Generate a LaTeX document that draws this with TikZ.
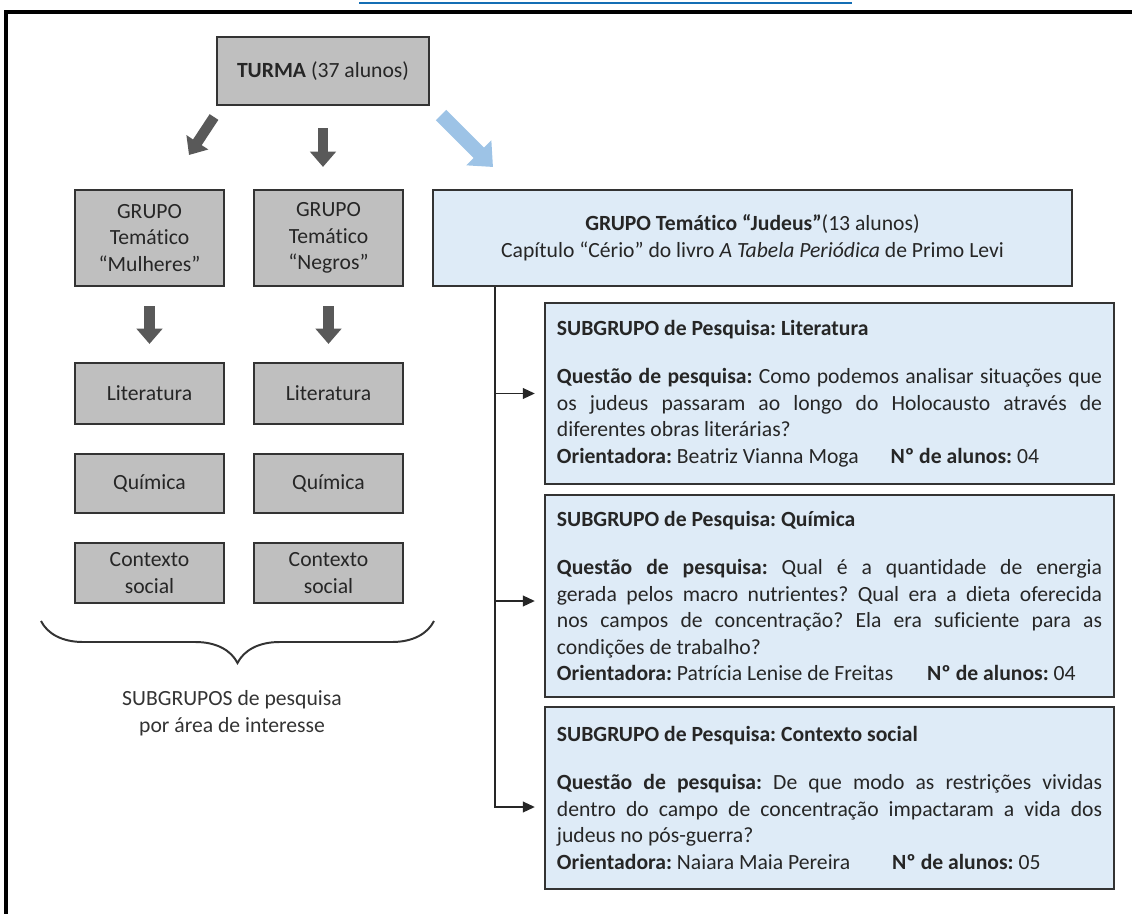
\documentclass[tikz,border=0pt]{standalone}
\usepackage{fontspec}
\setmainfont{Carlito}[Ligatures=NoCommon]
\usetikzlibrary{arrows.meta,decorations.pathreplacing}

\definecolor{boxgray}{RGB}{191,191,191}
\definecolor{boxblue}{RGB}{222,235,247}
\definecolor{arrowgray}{RGB}{89,89,89}
\definecolor{arrowblue}{RGB}{157,195,230}
\definecolor{linkblue}{RGB}{20,110,180}
\definecolor{inkdark}{RGB}{38,38,38}
\hyphenpenalty=10000
\frenchspacing

\begin{document}
\begin{tikzpicture}[
    x=0.025cm, y=-0.025cm,
    every node/.style={text=inkdark, font=\fontsize{15.4pt}{18.9pt}\selectfont},
    graybox/.style={draw=black!80, line width=1.5pt, fill=boxgray, minimum width=3.725cm, align=center},
    bluebox/.style={draw=black!80, line width=1.5pt, fill=boxblue, align=center},
    subbox/.style={draw=black!80, line width=1.5pt, fill=boxblue, text width=13.625cm,
                   inner xsep=0.3cm, align=justify},
    blockdark/.style={draw=arrowgray, line width=0.26cm, -{Triangle[length=0.38cm,width=0.63cm]}},
    blockblue/.style={draw=arrowblue, line width=0.37cm, -{Triangle[length=0.5cm,width=0.85cm]}},
    link/.style={draw=black!85, line width=1.4pt, -{Triangle[length=8.5pt,width=7.5pt]}, shorten >=0.225cm}
]
  \useasboundingbox (0,0) rectangle (1132,914);

  % frame and cut link
  \draw[linkblue, line width=1.5pt] (359,3) -- (852,3);
  \draw[line width=0.075cm] (1132,12) -- (6,12) -- (6,914);

  % class node
  \node[graybox, minimum width=5.3cm, minimum height=1.7cm] (turma) at (323,71) {\textbf{TURMA} (37 alunos)};

  % thematic groups
  \node[graybox, minimum height=2.4cm] (mulheres) at (149.5,238) {GRUPO\\Temático\\“Mulheres”};
  \node[graybox, minimum height=2.4cm] (negros)   at (328.5,238) {GRUPO\\Temático\\“Negros”};
  \node[bluebox, minimum width=15.975cm, minimum height=2.4cm] (judeus) at (752.5,238)
    {\textbf{GRUPO Temático “Judeus”}(13 alunos)\\Capítulo “Cério” do livro \textit{A Tabela Periódica} de Primo Levi};

  % arrows from the class
  \coordinate (d1s) at (214,117);
  \coordinate (d1e) at (189,155);
  \coordinate (b1s) at (441,115);
  \coordinate (b1e) at (493,167);
  \draw[blockdark] (d1s) -- (d1e);
  \draw[blockdark, shorten <=0.55cm, shorten >=0.55cm] (turma.south) -- (turma.south |- negros.north);
  \draw[blockblue] (b1s) -- (b1e);

  % subgroups of the left groups
  \node[graybox, minimum height=1.525cm] (lit1) at (149.5,393.5) {Literatura};
  \node[graybox, minimum height=1.475cm] (qui1) at (149.5,483.5) {Química};
  \node[graybox, minimum height=1.5cm]   (ctx1) at (149.5,573)   {Contexto\\social};
  \node[graybox, minimum height=1.525cm] (lit2) at (328.5,393.5) {Literatura};
  \node[graybox, minimum height=1.475cm] (qui2) at (328.5,483.5) {Química};
  \node[graybox, minimum height=1.5cm]   (ctx2) at (328.5,573)   {Contexto\\social};

  \draw[blockdark, shorten <=0.475cm, shorten >=0.45cm] (mulheres) -- (lit1);
  \draw[blockdark, shorten <=0.475cm, shorten >=0.45cm] (negros) -- (lit2);

  % brace and caption
  \coordinate (bl) at (41,621);
  \coordinate (br) at (434,621);
  \draw[decorate, decoration={brace, mirror, amplitude=1.05cm}, draw=black!80, line width=1.4pt] (bl) -- (br);
  \node[align=center, text=black!80] (caption) at (232,713) {SUBGRUPOS de pesquisa\\por área de interesse};

  % subgroups of the Judeus group
  \node[subbox, minimum height=4.525cm] (sub1) at (829.5,393.5) {%
    \textbf{SUBGRUPO de Pesquisa: Literatura}\par\vspace{0.54cm}
    \textbf{Questão de pesquisa:} Como podemos analisar situações que\linebreak
    os judeus passaram ao longo do Holocausto através de\linebreak
    diferentes obras literárias?\par
    \textbf{Orientadora:} Beatriz Vianna Moga\hspace{0.8cm}\textbf{Nº de alunos:} 04};
  \node[subbox, minimum height=5.05cm] (sub2) at (829.5,596) {%
    \textbf{SUBGRUPO de Pesquisa: Química}\par\vspace{0.54cm}
    \textbf{Questão de pesquisa:} Qual é a quantidade de energia\linebreak
    gerada pelos macro nutrientes? Qual era a dieta oferecida\linebreak
    nos campos de concentração? Ela era suficiente para as\linebreak
    condições de trabalho?\par
    \textbf{Orientadora:} Patrícia Lenise de Freitas\hspace{0.85cm}\textbf{Nº de alunos:} 04};
  \node[subbox, minimum height=4.55cm] (sub3) at (829.5,798) {%
    \textbf{SUBGRUPO de Pesquisa: Contexto social}\par\vspace{0.54cm}
    \textbf{Questão de pesquisa:} De que modo as restrições vividas\linebreak
    dentro do campo de concentração impactaram a vida dos\linebreak
    judeus no pós-guerra?\par
    \textbf{Orientadora:} Naiara Maia Pereira\hspace{1.05cm}\textbf{Nº de alunos:} 05};

  % connectors
  \coordinate (trunk) at ([xshift=1.575cm]judeus.south west);
  \coordinate (in2) at ([yshift=-0.125cm]sub2.west);
  \coordinate (in3) at ([yshift=-0.225cm]sub3.west);
  \draw[link] (trunk) |- (in3);
  \draw[link] (trunk |- sub1.west) -- (sub1.west);
  \draw[link] (trunk |- in2) -- (in2);
\end{tikzpicture}
\end{document}
